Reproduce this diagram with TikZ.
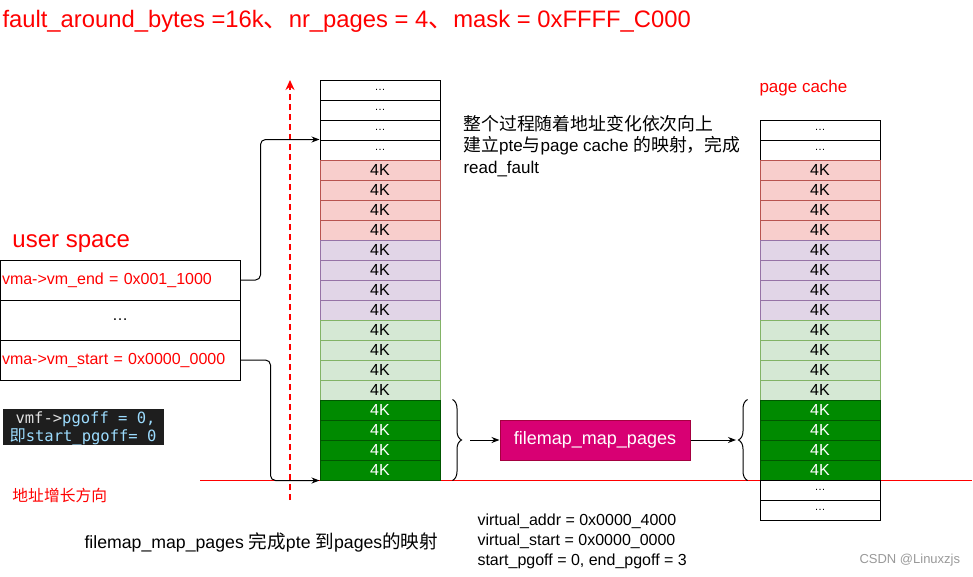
\documentclass[tikz,border=0pt]{standalone}
\usepackage{fontspec}
\setmainfont{Liberation Sans}
\newfontfamily\cjk[Scale=1.05]{Noto Sans CJK SC}
\newfontfamily\codefont{DejaVu Sans Mono}
\usetikzlibrary{arrows.meta, positioning, decorations.pathreplacing}
\definecolor{markred}{RGB}{255, 0, 0}
\definecolor{pinkfill}{RGB}{248, 206, 204}
\definecolor{pinkline}{RGB}{184, 84, 80}
\definecolor{lilacfill}{RGB}{225, 213, 231}
\definecolor{lilacline}{RGB}{150, 115, 166}
\definecolor{mintfill}{RGB}{213, 232, 212}
\definecolor{mintline}{RGB}{130, 179, 102}
\definecolor{pagegreen}{RGB}{0, 138, 0}
\definecolor{pagegreenline}{RGB}{0, 87, 0}
\definecolor{mapfill}{RGB}{216, 0, 115}
\definecolor{mapline}{RGB}{165, 0, 64}
\definecolor{codebg}{RGB}{30, 30, 30}
\definecolor{codegrey}{RGB}{225, 225, 225}
\definecolor{codeblue}{RGB}{156, 220, 254}
\newcommand{\zh}[1]{{\cjk #1}}
\newcommand{\fs}[1]{\fontsize{#1}{1.25\dimexpr#1pt\relax}\selectfont}

\begin{document}
\begin{tikzpicture}[x=1pt, y=-1pt, line width=1pt,
  cell/.style={draw, minimum width=120pt, minimum height=20pt, inner sep=0pt, font=\fs{16}},
  dotcell/.style={cell, draw=black, fill=white, font=\fs{11}},
  redcell/.style={cell, draw=pinkline, fill=pinkfill},
  lilaccell/.style={cell, draw=lilacline, fill=lilacfill},
  mintcell/.style={cell, draw=mintline, fill=mintfill},
  greencell/.style={cell, draw=pagegreenline, fill=pagegreen, text=white},
  vmarow/.style={draw, minimum height=40pt, text width=236pt, inner xsep=2pt, inner ysep=0pt, align=left, font=\fs{16}, text=markred},
  conn/.style={-{Stealth[length=8pt, width=6pt]}, black},
  label/.style={anchor=west, inner sep=0pt, align=left}]
  \useasboundingbox (0, 0) rectangle (973, 576);

  \node[label, text=markred, font=\fs{23.8}] (title) at (2, 21)
    {fault\_around\_bytes =16k\zh{、}nr\_pages = 4\zh{、}mask = 0xFFFF\_C000};

  % address axis
  \coordinate (axisL) at (200, 480);
  \coordinate (axisR) at (972, 480);
  \draw[markred] (axisL) -- (axisR);
  \coordinate (growlo) at (290, 500);
  \coordinate (growhi) at (290, 80);
  \draw[markred, line width=2pt, dash pattern=on 6pt off 4pt, -{Stealth[length=10pt, width=9pt]}] (growlo) -- (growhi);
  \node[label, text=markred, font=\fs{15}] (growtxt) at (12, 495) {\zh{地址增长方向}};

  % pte side
  \foreach [count=\i] \s/\t in {dotcell/\ldots, dotcell/\ldots, dotcell/\ldots, dotcell/\ldots,
      redcell/4K, redcell/4K, redcell/4K, redcell/4K,
      lilaccell/4K, lilaccell/4K, lilaccell/4K, lilaccell/4K,
      mintcell/4K, mintcell/4K, mintcell/4K, mintcell/4K,
      greencell/4K, greencell/4K, greencell/4K, greencell/4K}
    \node[\s] (L\i) at (380, {70+20*\i}) {\t};

  % page cache side
  \node[label, text=markred, font=\fs{17}] (pctitle) at (759, 88) {page cache};
  \foreach [count=\i] \s/\t in {dotcell/\ldots, dotcell/\ldots,
      redcell/4K, redcell/4K, redcell/4K, redcell/4K,
      lilaccell/4K, lilaccell/4K, lilaccell/4K, lilaccell/4K,
      mintcell/4K, mintcell/4K, mintcell/4K, mintcell/4K,
      greencell/4K, greencell/4K, greencell/4K, greencell/4K,
      dotcell/\ldots, dotcell/\ldots}
    \node[\s] (R\i) at (820, {110+20*\i}) {\t};

  % user space vma
  \node[label, text=markred, font=\fs{24}] (ustitle) at (12, 244) {user space};
  \node[vmarow] (vmend) at (120, 280) {vma->vm\_end = 0x001\_1000};
  \node[vmarow, align=center, text=black] (vmdots) at (120, 320) {\ldots};
  \node[vmarow] (vmstart) at (120, 360) {vma->vm\_start = 0x0000\_0000};
  \draw[conn, rounded corners=5pt] (vmend.east) -- ++(20, 0) |- (L4.north west);
  \draw[conn, rounded corners=5pt] (vmstart.east) -- ++(30, 0) |- (L20.south west);

  \node[anchor=north west, fill=codebg, minimum width=161pt, minimum height=36pt, inner xsep=1pt, inner ysep=1pt,
        align=left, text=codeblue, font=\codefont\fs{15.5}, text depth=0pt] (pgoffnote) at (2, 408)
    {\hspace*{6pt}{\color{codegrey}vmf->}pgoff = 0,\\[-2pt]{\cjk 即}start\_pgoff= 0};

  % filemap_map_pages
  \node[draw=mapline, fill=mapfill, text=white, minimum width=190pt, minimum height=40pt, font=\fs{18}] (mapnode)
    at (595, 440) {filemap\_map\_pages};
  \draw[decorate, decoration={brace, amplitude=9pt}] ([xshift=12pt]L17.north east) -- ([xshift=12pt]L20.south east);
  \draw[decorate, decoration={brace, amplitude=9pt}] ([xshift=-12pt]R18.south west) -- ([xshift=-12pt]R15.north west);
  \coordinate (lbtip) at (470, 440);
  \coordinate (rbtip) at (736, 440);
  \draw[conn] (lbtip) -- (mapnode.west);
  \draw[conn] (mapnode.east) -- (rbtip);

  % notes
  \node[label, font=\fs{17}] (stepnote) at (463, 146)
    {\zh{整个过程随着地址变化依次向上}\\[0pt]\zh{建立}pte\zh{与}page cache \zh{的映射，完成}\\[0pt]read\_fault};
  \node[label, font=\fs{17.7}] (mapnote) at (84, 542)
    {filemap\_map\_pages \zh{完成}pte \zh{到}pages\zh{的映射}};
  \node[label, font=\fs{16}] (addrnote) at (477, 541)
    {virtual\_addr = 0x0000\_4000\\[0pt]virtual\_start = 0x0000\_0000\\[0pt]start\_pgoff = 0, end\_pgoff = 3};
  \node[label, text=black!40, font=\fs{13}] (mark) at (859, 560) {CSDN @Linuxzjs};
\end{tikzpicture}
\end{document}
